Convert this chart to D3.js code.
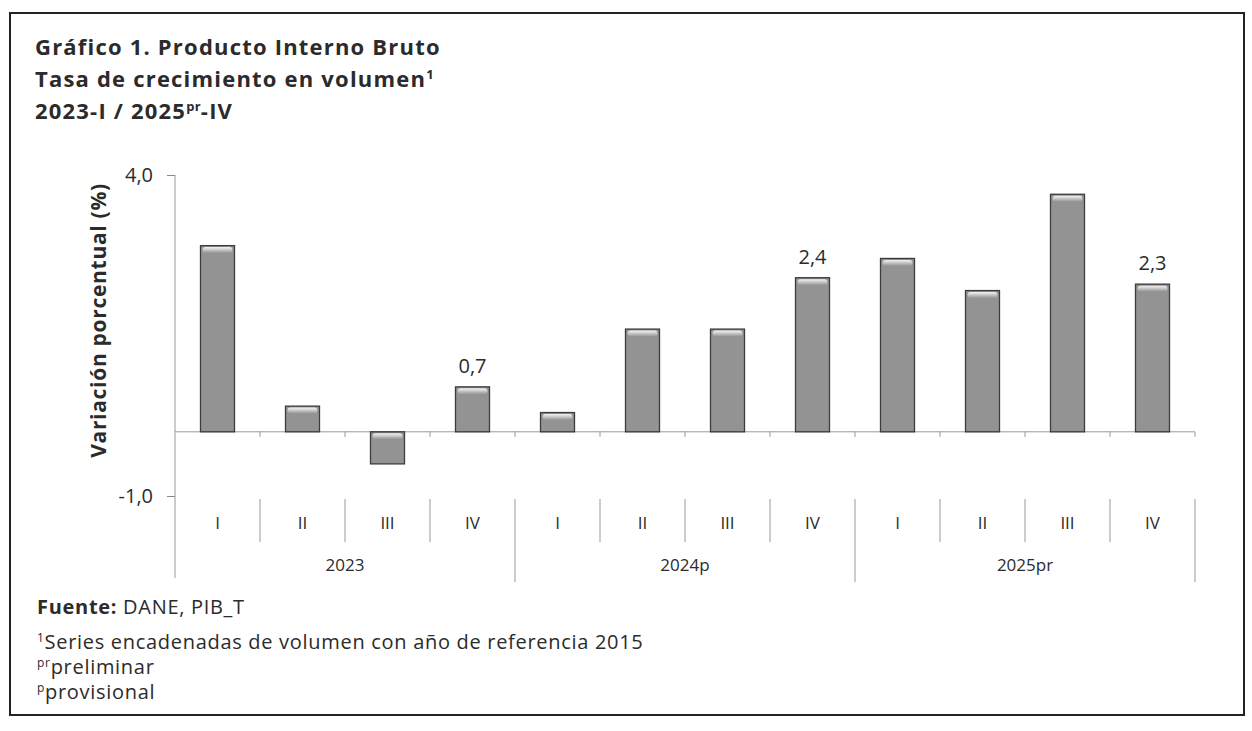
<!DOCTYPE html>
<html>
<head>
<meta charset="utf-8">
<script src="https://cdn.jsdelivr.net/npm/d3@7"></script>
<style>
  body { margin: 0; background: #fff; }
  svg text { font-family: "Open Sans", sans-serif; fill: #2b2b2b; }
</style>
</head>
<body>
<svg id="chart" width="1252" height="731"></svg>
<script>
// quarters, year groups and growth rates (%)
const quarters = ["I", "II", "III", "IV"];
const years = ["2023", "2024p", "2025pr"];
const growth = [2.9, 0.4, -0.5, 0.7, 0.3, 1.6, 1.6, 2.4, 2.7, 2.2, 3.7, 2.3];
const labelled = ["2023-IV", "2024p-IV", "2025pr-IV"];
const yTicks = [-1, 4];

const data = [];
years.forEach((y, i) => quarters.forEach((q, j) => {
    data.push({key: y + "-" + q, year: y, quarter: q, value: growth[i * 4 + j]});
}));

const svg = d3.select("#chart");
const margin = {left: 175, right: 1195, top: 175, bottom: 496};

const locale = d3.formatLocale({decimal: ",", thousands: ".", grouping: [3], currency: ["", ""], minus: "-"});
const fmt = locale.format(".1f");

const x = d3.scaleBand()
    .domain(data.map(d => d.key))
    .range([margin.left, margin.right])
    .paddingInner(0.6)
    .paddingOuter(0.3);
const step = x.step();

const y = d3.scaleLinear()
    .domain([-1, 4])
    .range([margin.bottom, margin.top]);

// frame
svg.append("rect")
    .attr("x", 10).attr("y", 13)
    .attr("width", 1234).attr("height", 702)
    .attr("fill", "none").attr("stroke", "#222").attr("stroke-width", 2);

// title
const title = svg.append("text").attr("font-weight", "bold").attr("font-size", 22)
    .attr("letter-spacing", 1.2).attr("fill", "#3a3a3a");
title.append("tspan").attr("x", 35).attr("y", 55).text("Gráfico 1. Producto Interno Bruto");
title.append("tspan").attr("x", 35).attr("y", 87).text("Tasa de crecimiento en volumen");
title.append("tspan").attr("dy", -8).attr("font-size", 13).text("1");
title.append("tspan").attr("x", 35).attr("y", 119).text("2023-I / 2025");
title.append("tspan").attr("dy", -8).attr("font-size", 13).attr("letter-spacing", 0.3).text("pr");
title.append("tspan").attr("dy", 8).text("-IV");

// y axis
const yAxis = svg.append("g")
    .attr("transform", `translate(${margin.left},0)`)
    .call(d3.axisLeft(y).tickValues(yTicks).tickFormat(fmt).tickSize(8).tickPadding(14));
yAxis.select(".domain").remove();
yAxis.selectAll(".tick line").attr("stroke", "#888");
yAxis.selectAll(".tick text").attr("font-size", 20).attr("fill", "#2b2b2b")
    .attr("font-family", "'Open Sans', sans-serif");
svg.append("line")
    .attr("x1", margin.left).attr("x2", margin.left)
    .attr("y1", margin.top).attr("y2", 578)
    .attr("stroke", "#999");

svg.append("text")
    .attr("transform", `translate(106,${(margin.top + margin.bottom) / 2 - 15}) rotate(-90)`)
    .attr("text-anchor", "middle")
    .attr("font-weight", "bold")
    .attr("font-size", 21)
    .attr("letter-spacing", 0.7)
    .text("Variación porcentual (%)");

// zero line with small ticks at category boundaries
svg.append("line")
    .attr("x1", margin.left).attr("x2", margin.right)
    .attr("y1", y(0)).attr("y2", y(0))
    .attr("stroke", "#999");
svg.append("g").selectAll("line")
    .data(data)
    .join("line")
    .attr("x1", d => x(d.key) - step * 0.3 + step)
    .attr("x2", d => x(d.key) - step * 0.3 + step)
    .attr("y1", y(0)).attr("y2", y(0) + 5)
    .attr("stroke", "#999");

// bars
const defs = svg.append("defs");
const grad = defs.append("linearGradient").attr("id", "shine").attr("x1", 0).attr("x2", 0).attr("y1", 0).attr("y2", 1);
grad.append("stop").attr("offset", "0%").attr("stop-color", "#f4f4f4");
grad.append("stop").attr("offset", "100%").attr("stop-color", "#939393");

const bars = svg.append("g").selectAll("g")
    .data(data)
    .join("g");
bars.append("rect")
    .attr("x", d => x(d.key))
    .attr("y", d => y(Math.max(0, d.value)))
    .attr("width", x.bandwidth())
    .attr("height", d => Math.abs(y(d.value) - y(0)))
    .attr("fill", "#939393")
    .attr("stroke", "#3c3c3c")
    .attr("stroke-width", 1.3);
bars.append("rect")
    .attr("x", d => x(d.key) + 2)
    .attr("y", d => y(Math.max(0, d.value)) + 1.5)
    .attr("width", x.bandwidth() - 4)
    .attr("height", 6)
    .attr("rx", 3)
    .attr("fill", "url(#shine)");

// data labels
svg.append("g").selectAll("text")
    .data(data.filter(d => labelled.includes(d.key)))
    .join("text")
    .attr("x", d => x(d.key) + x.bandwidth() / 2)
    .attr("y", d => y(d.value) - 14)
    .attr("text-anchor", "middle")
    .attr("font-size", 20)
    .text(d => fmt(d.value));

// category axis: quarters and years
const catTop = margin.bottom + 3;
const left = d => x(d.key) - step * 0.3;
const cat = svg.append("g");
cat.selectAll("line.q")
    .data(data.filter(d => d.quarter !== "I"))
    .join("line")
    .attr("x1", left).attr("x2", left)
    .attr("y1", catTop).attr("y2", 542)
    .attr("stroke", "#999");
cat.selectAll("line.yr")
    .data(years.slice(1).map(yr => yr + "-I").concat(["end"]))
    .join("line")
    .attr("x1", k => k === "end" ? margin.right : x(k) - step * 0.3)
    .attr("x2", k => k === "end" ? margin.right : x(k) - step * 0.3)
    .attr("y1", catTop).attr("y2", 582)
    .attr("stroke", "#999");
cat.selectAll("text.q")
    .data(data)
    .join("text")
    .attr("x", d => x(d.key) + x.bandwidth() / 2)
    .attr("y", 529)
    .attr("text-anchor", "middle")
    .attr("font-size", 17)
    .text(d => d.quarter);
cat.selectAll("text.yr")
    .data(years)
    .join("text")
    .attr("x", yr => margin.left + (years.indexOf(yr) + 0.5) * step * 4)
    .attr("y", 571)
    .attr("text-anchor", "middle")
    .attr("font-size", 17)
    .text(yr => yr);

// notes
const notes = svg.append("g").attr("font-size", 20).attr("letter-spacing", 0.7);
const n1 = notes.append("text").attr("x", 37).attr("y", 614);
n1.append("tspan").attr("font-weight", "bold").text("Fuente:");
n1.append("tspan").text(" DANE, PIB_T");
const n2 = notes.append("text").attr("x", 37).attr("y", 649);
n2.append("tspan").attr("font-size", 12).attr("dy", -7).text("1");
n2.append("tspan").attr("dy", 7).text("Series encadenadas de volumen con año de referencia 2015");
const n3 = notes.append("text").attr("x", 37).attr("y", 674);
n3.append("tspan").attr("font-size", 12).attr("dy", -7).text("pr");
n3.append("tspan").attr("dy", 7).text("preliminar");
const n4 = notes.append("text").attr("x", 37).attr("y", 699);
n4.append("tspan").attr("font-size", 12).attr("dy", -7).text("p");
n4.append("tspan").attr("dy", 7).text("provisional");
</script>
</body>
</html>
